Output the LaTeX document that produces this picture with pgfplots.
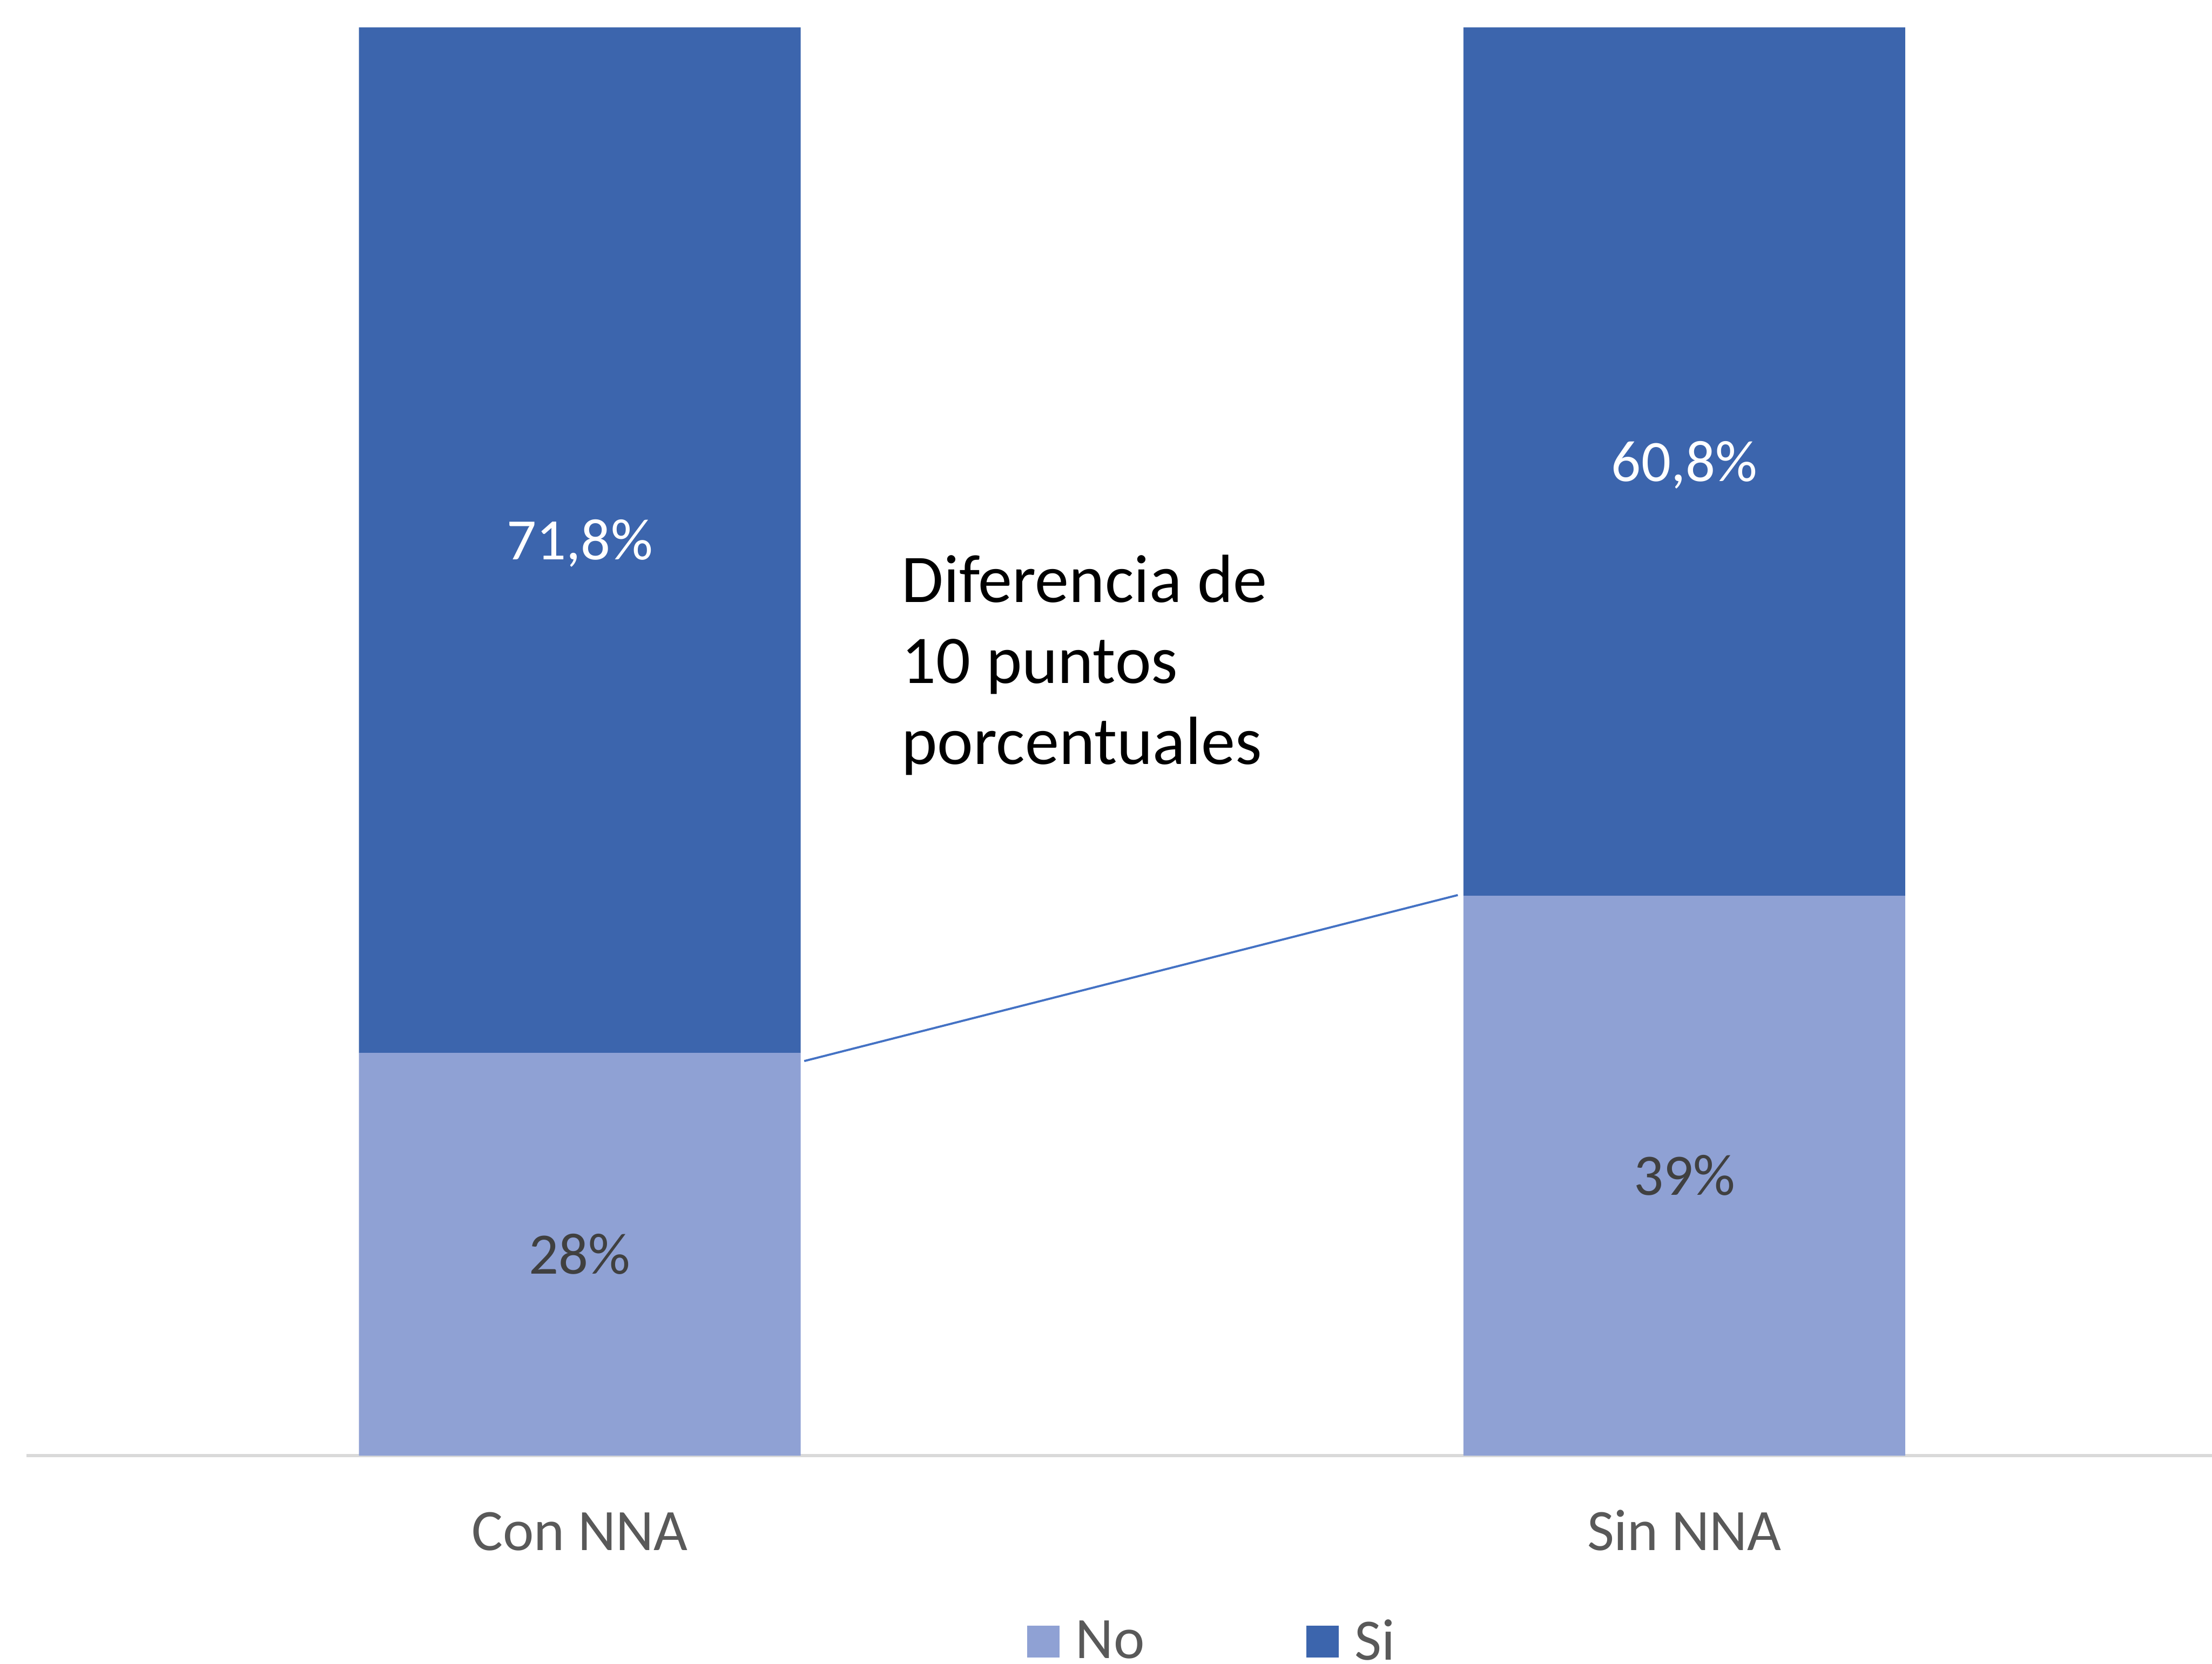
\documentclass[border=0pt]{standalone}
\usepackage{pgfplots}
\pgfplotsset{compat=1.18}
\usepackage{pgfplotstable}
\usepackage{fontspec}
\setmainfont{Carlito}
\definecolor{siblue}{HTML}{3C65AD}
\definecolor{noblue}{HTML}{8FA1D4}
\definecolor{linkblue}{HTML}{4472C4}
\definecolor{axisgray}{HTML}{D9D9D9}
\definecolor{textgray}{HTML}{595959}
\definecolor{labeldark}{HTML}{404040}

\pgfplotstableread{
x no si
0 28.2 71.8
1 39.2 60.8
}\datatable

\pgfplotsset{
  geom/.style={
    at={(7.56pt,74.52pt)}, anchor=south west,
    scale only axis, width=784.1pt, height=511.3pt,
    xmin=-0.5058, xmax=1.4778, ymin=0, ymax=100,
  },
  sqlegend/.style={
    legend image code/.code={\fill[##1] (0pt,-5.75pt) rectangle (11.5pt,5.75pt);}
  },
}

\begin{document}
\begin{tikzpicture}
\useasboundingbox (0,0) rectangle (791.64pt,595.62pt);
\begin{axis}[
  geom,
  ybar stacked,
  bar width=158.1pt,
  axis x line*=bottom,
  hide y axis,
  x axis line style={draw=axisgray, line width=1.1pt, -, shorten <=2pt},
  xtick={0,1},
  xticklabels={Con NNA,Sin NNA},
  major tick length=0pt,
  xtick style={draw=none},
  xticklabel style={anchor=base, yshift=-33.8pt, font=\fontsize{21}{25}\selectfont, text=textgray},
  legend columns=2,
  legend cell align=left,
  legend style={draw=none, fill=none, inner sep=0pt,
    at={(axis description cs:0.4590,-0.1302)}, anchor=west,
    font=\fontsize{21}{25}\selectfont, text=textgray,
    nodes={inner sep=0pt},
    /tikz/every odd column/.append style={column sep=5.8pt},
    /tikz/every even column/.append style={column sep=58pt}},
]
\addplot[fill=noblue, draw=none, sqlegend]
  table[x=x, y=no] {\datatable};
\addlegendentry{No}
\addplot[fill=siblue, draw=none, sqlegend]
  table[x=x, y=si] {\datatable};
\addlegendentry{Si}
\draw[linkblue, line width=0.75pt] (axis cs:0.2032,27.63) -- (axis cs:0.7949,39.25);
\end{axis}
\begin{axis}[geom, hide axis]
\addplot[only marks, mark=none, nodes near coords, point meta=explicit symbolic,
  every node near coord/.append style={anchor=base, yshift=-7pt, text=labeldark, font=\fontsize{21}{25}\selectfont}]
  coordinates {(0,14.1) [28\%] (1,19.6) [39\%]};
\addplot[only marks, mark=none, nodes near coords, point meta=explicit symbolic,
  every node near coord/.append style={anchor=base, yshift=-7pt, text=white, font=\fontsize{21}{25}\selectfont}]
  coordinates {(0,64.1) [71,8\%] (1,69.6) [60,8\%]};
\end{axis}
\node[anchor=base west, inner sep=0pt, font=\fontsize{24.4}{29}\selectfont, text=black] at (322.5pt,380pt) {Diferencia de};
\node[anchor=base west, inner sep=0pt, font=\fontsize{24.4}{29}\selectfont, text=black] at (322.5pt,351pt) {10 puntos};
\node[anchor=base west, inner sep=0pt, font=\fontsize{24.4}{29}\selectfont, text=black] at (322.5pt,322pt) {porcentuales};
\end{tikzpicture}
\end{document}
